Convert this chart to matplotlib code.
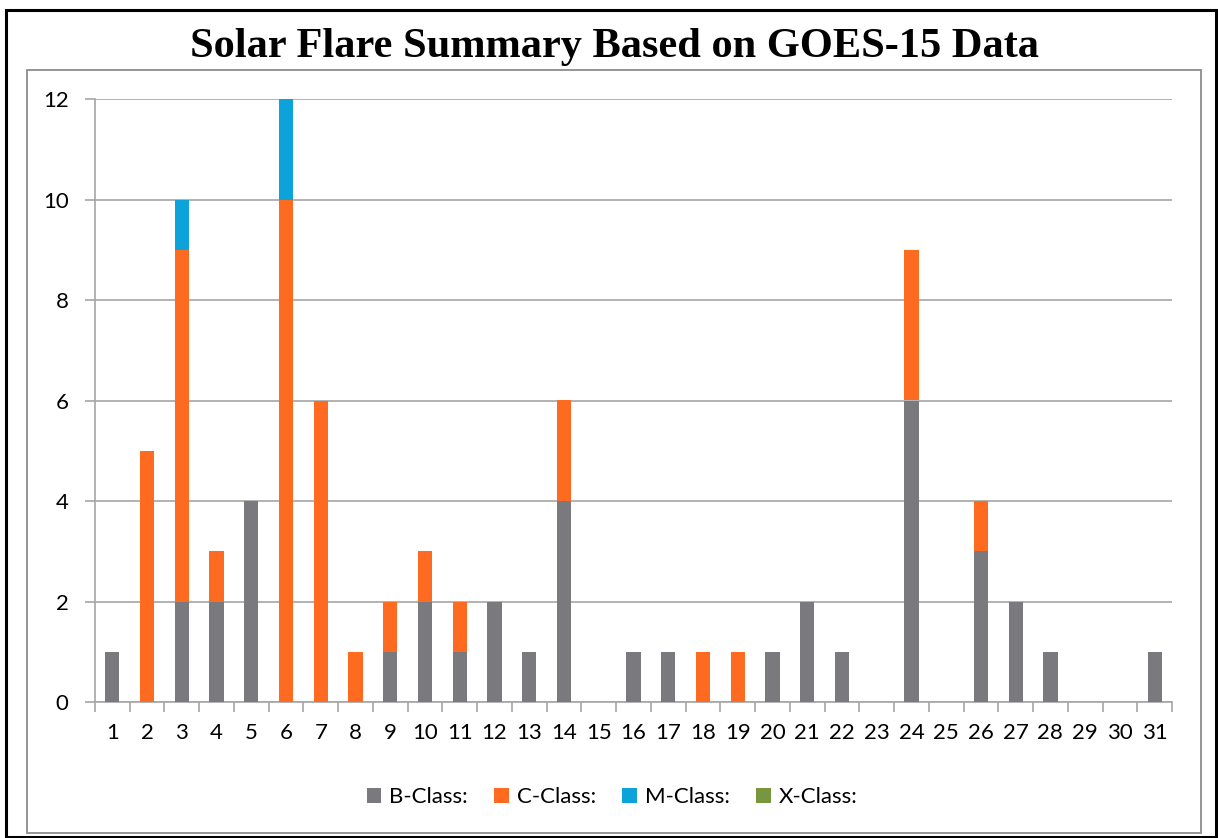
import matplotlib
matplotlib.use("Agg")
import matplotlib.pyplot as plt
from matplotlib.patches import Rectangle, Patch
import numpy as np

days = list(range(1, 32))
b_class = [1, 0, 2, 2, 4, 0, 0, 0, 1, 2, 1, 2, 1, 4, 0, 1, 1, 0, 0, 1, 2, 1, 0, 6, 0, 3, 2, 1, 0, 0, 1]
c_class = [0, 5, 7, 1, 0, 10, 6, 1, 1, 1, 1, 0, 0, 2, 0, 0, 0, 1, 1, 0, 0, 0, 0, 3, 0, 1, 0, 0, 0, 0, 0]
m_class = [0, 0, 1, 0, 0, 2, 0, 0, 0, 0, 0, 0, 0, 0, 0, 0, 0, 0, 0, 0, 0, 0, 0, 0, 0, 0, 0, 0, 0, 0, 0]
x_class = [0] * 31
series_names = ["B-Class:", "C-Class:", "M-Class:", "X-Class:"]
colors = ["#7a7a7e", "#fd6a20", "#0ba3da", "#77963f"]
title = "Solar Flare Summary Based on GOES-15 Data"

W, H = 1218, 838
fig = plt.figure(figsize=(W / 100, H / 100), dpi=100)
fig.patch.set_facecolor("white")

# outer black border
fig.add_artist(Rectangle((6 / W, 1 - 837 / H), (1216 - 6) / W, (837 - 10) / H,
                         transform=fig.transFigure, fill=False, edgecolor="black", lw=2.2))
# inner gray chart border
fig.add_artist(Rectangle((27 / W, 1 - 833 / H), (1201 - 27) / W, (833 - 70) / H,
                         transform=fig.transFigure, fill=False, edgecolor="#8c8c8c", lw=1.3))

fig.text(614 / W, 1 - 47 / H, title, ha="center", va="center",
         fontfamily="Liberation Serif", fontweight="bold", fontsize=30.5)

x0, x1, y0, y1 = 95, 1172, 99, 702
ax = fig.add_axes([x0 / W, 1 - y1 / H, (x1 - x0) / W, (y1 - y0) / H])
x = np.array(days)
bw = 0.41
bottom = np.zeros(31)
for vals, col, name in zip([b_class, c_class, m_class, x_class], colors, series_names):
    v = np.array(vals, dtype=float)
    ax.bar(x, v, bw, bottom=bottom, color=col, label=name, zorder=3)
    bottom += v

ax.set_xlim(0.5, 31.5)
ax.set_ylim(0, 12)
ax.set_yticks(range(0, 13, 2))
ax.set_xticks(days)
ax.set_xticks(np.arange(0.5, 32, 1), minor=True)
gc = "#a6a6a6"
ax.grid(axis="y", color=gc, lw=1.2, zorder=0)
for s in ["top", "right"]:
    ax.spines[s].set_visible(False)
ax.spines["left"].set_color(gc)
ax.spines["bottom"].set_color(gc)
ax.spines["left"].set_linewidth(1.2)
ax.spines["bottom"].set_linewidth(1.2)
ax.tick_params(axis="x", which="major", length=0, pad=15, labelsize=16)
ax.tick_params(axis="x", which="minor", length=7, color=gc, width=1.2)
ax.tick_params(axis="y", length=7, color=gc, width=1.2, pad=12, labelsize=16)
for lab in ax.get_xticklabels() + ax.get_yticklabels():
    lab.set_fontfamily("Lato")

handles = [Patch(facecolor=c, edgecolor="none") for c in colors]
leg = fig.legend(handles, series_names, loc="center", bbox_to_anchor=(612 / W, 1 - 797 / H),
                 ncol=4, frameon=False, prop={"family": "Lato", "size": 16},
                 handlelength=0.65, handleheight=0.65, handletextpad=0.35, columnspacing=1.2)

fig.savefig("out.png", dpi=100)
